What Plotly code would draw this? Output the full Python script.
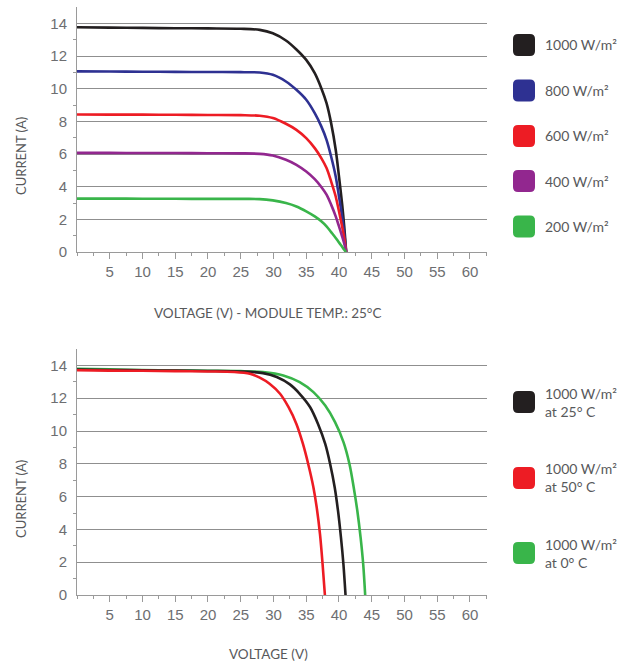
import plotly.graph_objects as go

# ---------------- data ----------------
# Top chart: I-V curves at different irradiance, module temp 25 C
v_top = [0, 5, 10, 15, 20, 25, 27.9, 29.9, 31.9, 33.5, 35.0, 36.3, 37.3, 38.1, 38.8, 39.5, 40.0, 40.5, 40.8, 41.1]
i_1000 = [13.76, 13.74, 13.72, 13.70, 13.69, 13.67, 13.60, 13.39, 12.95, 12.40, 11.76, 10.95, 10.03, 9.11, 7.89, 6.26, 4.63, 2.85, 1.57, 0.0]
i_800 = [11.06, 11.05, 11.04, 11.03, 11.02, 11.01, 10.99, 10.85, 10.44, 9.93, 9.32, 8.50, 7.69, 6.87, 5.85, 4.63, 3.40, 2.10, 1.16, 0.0]
i_600 = [8.42, 8.41, 8.41, 8.40, 8.39, 8.38, 8.34, 8.20, 7.85, 7.48, 6.97, 6.36, 5.75, 5.14, 4.32, 3.40, 2.49, 1.52, 0.86, 0.0]
i_400 = [6.07, 6.07, 6.06, 6.06, 6.05, 6.04, 6.01, 5.91, 5.65, 5.34, 4.93, 4.46, 3.98, 3.51, 2.90, 2.18, 1.57, 0.93, 0.52, 0.0]
i_200 = [3.27, 3.27, 3.26, 3.26, 3.25, 3.25, 3.24, 3.16, 3.00, 2.79, 2.49, 2.18, 1.88, 1.57, 1.22, 0.86, 0.58, 0.31, 0.14, 0.0]
top_labels = ["1000 W/m²", "800 W/m²", "600 W/m²", "400 W/m²", "200 W/m²"]
top_colors = ["#231f20", "#2e3192", "#ed1c24", "#92278f", "#39b54a"]

# Bottom chart: I-V curves at 1000 W/m2 for different temperatures
v_25c = [0, 5, 10, 15, 20, 25, 28.4, 30.5, 32.5, 34.0, 35.6, 36.8, 37.9, 38.65, 39.35, 39.85, 40.3, 40.68, 41.0]
i_25c = [13.75, 13.72, 13.70, 13.68, 13.66, 13.63, 13.53, 13.29, 12.84, 12.27, 11.45, 10.43, 9.21, 7.99, 6.56, 5.14, 3.51, 1.87, 0.0]
v_50c = [0, 5, 10, 15, 20, 24, 26.4, 27.9, 29.4, 31.0, 32.3, 33.5, 34.5, 35.3, 36.1, 36.6, 37.1, 37.5, 37.85]
i_50c = [13.70, 13.68, 13.67, 13.65, 13.63, 13.60, 13.49, 13.25, 12.88, 12.27, 11.45, 10.43, 9.21, 7.99, 6.56, 5.34, 3.71, 1.87, 0.0]
v_0c = [0, 5, 10, 15, 20, 25, 28.4, 31.5, 34.0, 36.1, 37.9, 39.4, 40.7, 41.6, 42.25, 42.8, 43.3, 43.7, 44.0]
i_0c = [13.80, 13.76, 13.72, 13.69, 13.67, 13.65, 13.59, 13.39, 12.98, 12.37, 11.55, 10.54, 9.31, 7.99, 6.56, 5.14, 3.51, 1.87, 0.0]
bottom_labels = ["1000 W/m²<br>at 25° C", "1000 W/m²<br>at 50° C", "1000 W/m²<br>at 0° C"]
bottom_colors = ["#231f20", "#ed1c24", "#39b54a"]

x_ticks = [5, 10, 15, 20, 25, 30, 35, 40, 45, 50, 55, 60]
y_ticks = [0, 2, 4, 6, 8, 10, 12, 14]

# ---------------- layout helpers ----------------
W, H = 632, 662
ML, MR, MT, MB = 77, 145, 7, 67
PW, PH = W - ML - MR, H - MT - MB


def fx(px):
    return (px - ML) / PW


def fy(py):
    return (H - MB - py) / PH


GRID = "#8f8f8f"
AXIS = "#9a9a9a"
TICKTXT = "#6d6e71"
TXT = "#58595b"

fig = go.Figure()

top_series = [i_1000, i_800, i_600, i_400, i_200]
for ys, col, name in zip(top_series, top_colors, top_labels):
    fig.add_trace(go.Scatter(x=v_top, y=ys, mode="lines", name=name,
                             line=dict(color=col, width=2.6, shape="spline", smoothing=0.9),
                             xaxis="x", yaxis="y", showlegend=False))

bottom_series = [(v_0c, i_0c, bottom_colors[2], bottom_labels[2]),
                 (v_25c, i_25c, bottom_colors[0], bottom_labels[0]),
                 (v_50c, i_50c, bottom_colors[1], bottom_labels[1])]
for xs, ys, col, name in bottom_series:
    fig.add_trace(go.Scatter(x=xs, y=ys, mode="lines", name=name,
                             line=dict(color=col, width=2.6, shape="spline", smoothing=0.9),
                             xaxis="x2", yaxis="y2", showlegend=False))

xaxis_common = dict(range=[0, 62.6], tickvals=x_ticks, ticks="outside", ticklen=6,
                    tickcolor=AXIS, tickwidth=1, showline=True, linecolor=AXIS, linewidth=1,
                    showgrid=False, zeroline=False, fixedrange=True,
                    tickfont=dict(family="Liberation Sans, Arial", size=15, color=TICKTXT),
                    minor=dict(dtick=2.5, tick0=0, ticks="outside", ticklen=3,
                               tickcolor=AXIS, showgrid=False))
yaxis_common = dict(range=[0, 15], tickvals=y_ticks, ticks="", showline=True,
                    linecolor=AXIS, linewidth=1, showgrid=True, gridcolor=GRID, gridwidth=1,
                    zeroline=False, fixedrange=True, ticklabelstandoff=6,
                    tickfont=dict(family="Liberation Sans, Arial", size=15, color=TICKTXT),
                    minor=dict(tickvals=[1, 3, 5, 7, 9, 11, 13], ticks="outside", ticklen=3,
                               tickcolor=AXIS, showgrid=False))

fig.update_layout(
    width=W, height=H,
    margin=dict(l=ML, r=MR, t=MT, b=MB, pad=0),
    paper_bgcolor="white", plot_bgcolor="white",
    xaxis=dict(domain=[0, 1], anchor="y", **xaxis_common),
    yaxis=dict(domain=[fy(252), fy(7)], anchor="x", **yaxis_common),
    xaxis2=dict(domain=[0, 1], anchor="y2", **xaxis_common),
    yaxis2=dict(domain=[0, fy(349)], anchor="x2", **yaxis_common),
)

FONT = "Lato, Open Sans, sans-serif"
annotations = []
# axis titles
annotations.append(dict(text="CURRENT (A)", x=fx(21), y=fy(156), textangle=-90,
                        font=dict(family=FONT, size=13, color=TXT)))
annotations.append(dict(text="CURRENT (A)", x=fx(21), y=fy(499), textangle=-90,
                        font=dict(family=FONT, size=13, color=TXT)))
annotations.append(dict(text="VOLTAGE (V) - MODULE TEMP.: 25°C", x=fx(268), y=fy(313),
                        font=dict(family=FONT, size=13.5, color=TXT)))
annotations.append(dict(text="VOLTAGE (V)", x=fx(268), y=fy(654),
                        font=dict(family=FONT, size=13.5, color=TXT)))


def rounded_square(cx, cy, size=22, r=5):
    x0, x1 = cx - size / 2, cx + size / 2
    y0, y1 = cy - size / 2, cy + size / 2
    pts = [
        f"M {fx(x0 + r)},{fy(y0)}",
        f"L {fx(x1 - r)},{fy(y0)}",
        f"Q {fx(x1)},{fy(y0)} {fx(x1)},{fy(y0 + r)}",
        f"L {fx(x1)},{fy(y1 - r)}",
        f"Q {fx(x1)},{fy(y1)} {fx(x1 - r)},{fy(y1)}",
        f"L {fx(x0 + r)},{fy(y1)}",
        f"Q {fx(x0)},{fy(y1)} {fx(x0)},{fy(y1 - r)}",
        f"L {fx(x0)},{fy(y0 + r)}",
        f"Q {fx(x0)},{fy(y0)} {fx(x0 + r)},{fy(y0)}",
        "Z",
    ]
    return " ".join(pts)


shapes = []
top_rows = [45, 90.5, 136, 181, 226.5]
for cy, col, lab in zip(top_rows, top_colors, top_labels):
    shapes.append(dict(type="path", xref="paper", yref="paper", path=rounded_square(524, cy),
                       fillcolor=col, line=dict(width=0)))
    annotations.append(dict(text=lab, x=fx(543), y=fy(cy), xanchor="left", yanchor="middle",
                            font=dict(family=FONT, size=14, color=TXT)))

bottom_rows = [402, 478, 553]
for cy, col, lab in zip(bottom_rows, bottom_colors, bottom_labels):
    shapes.append(dict(type="path", xref="paper", yref="paper", path=rounded_square(524, cy),
                       fillcolor=col, line=dict(width=0)))
    annotations.append(dict(text=lab, x=fx(543), y=fy(cy), xanchor="left", yanchor="middle",
                            align="left", font=dict(family=FONT, size=14, color=TXT)))

for a in annotations:
    a.setdefault("xref", "paper")
    a.setdefault("yref", "paper")
    a.setdefault("xanchor", "center")
    a.setdefault("yanchor", "middle")
    a.setdefault("showarrow", False)

fig.update_layout(annotations=annotations, shapes=shapes)

fig.write_html("out.html", config={"displayModeBar": False},
               post_script="document.body.style.margin='0';document.body.style.overflow='hidden';")
